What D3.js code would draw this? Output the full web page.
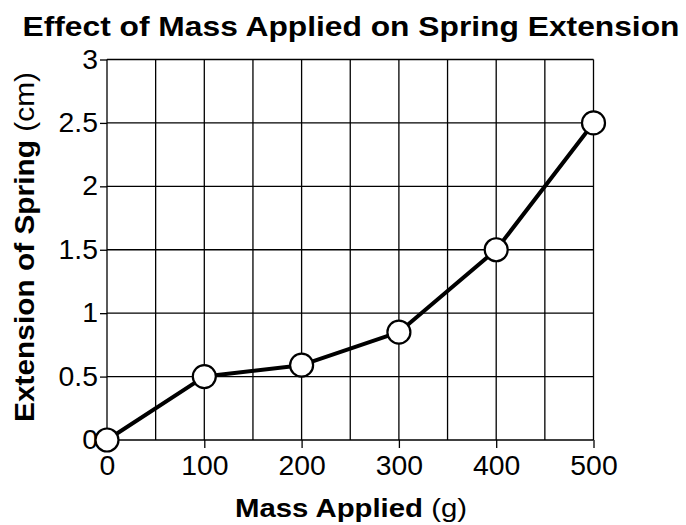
<!DOCTYPE html>
<html>
<head>
<meta charset="utf-8">
<script src="https://cdn.jsdelivr.net/npm/d3@7"></script>
<style>
  body { margin: 0; background: #fff; }
  text { font-family: "Liberation Sans", Arial, sans-serif; fill: #000; }
</style>
</head>
<body>
<script>
const width = 686;
const height = 525;

// data
const massValues = [0, 100, 200, 300, 400, 500];
const extensionValues = [0, 0.5, 0.59, 0.85, 1.5, 2.5];
const xTicks = [0, 100, 200, 300, 400, 500];
const yTicks = [0, 0.5, 1, 1.5, 2, 2.5, 3];
const xGrid = d3.range(0, 501, 50);

const margin = {top: 59.5, right: 92.5, bottom: 85, left: 107};

const svg = d3.select("body").append("svg")
    .attr("width", width)
    .attr("height", height);

const x = d3.scaleLinear().domain([0, 500]).range([margin.left, width - margin.right]);
const y = d3.scaleLinear().domain([0, 3]).range([height - margin.bottom, margin.top]);

// stretch text a bit wider, the reference font runs wide
function widen(sel, k) {
  sel.each(function() {
    const w = this.getComputedTextLength();
    d3.select(this).attr("textLength", w * k).attr("lengthAdjust", "spacingAndGlyphs");
  });
}

// grid
svg.append("g").selectAll("line.v")
    .data(xGrid)
  .enter().append("line")
    .attr("x1", d => x(d)).attr("x2", d => x(d))
    .attr("y1", y(0)).attr("y2", y(3))
    .attr("stroke", "#000").attr("stroke-width", 1.3);

svg.append("g").selectAll("line.h")
    .data(yTicks)
  .enter().append("line")
    .attr("x1", x(0)).attr("x2", x(500))
    .attr("y1", d => y(d)).attr("y2", d => y(d))
    .attr("stroke", "#000").attr("stroke-width", 1.3);

// axes
const xAxis = d3.axisBottom(x).tickValues(xTicks).tickSize(8).tickPadding(8).tickFormat(d3.format("d"));
const yAxis = d3.axisLeft(y).tickValues(yTicks).tickSize(7).tickPadding(2).tickFormat(d => String(d));

const gx = svg.append("g").attr("transform", `translate(0,${y(0)})`).call(xAxis);
const gy = svg.append("g").attr("transform", `translate(${x(0)},0)`).call(yAxis);

[gx, gy].forEach(g => {
  g.attr("font-size", 27).attr("font-family", "Liberation Sans, Arial, sans-serif");
  g.select(".domain").remove();
  g.selectAll(".tick line").attr("stroke", "#000").attr("stroke-width", 1.3);
  g.selectAll(".tick text").attr("fill", "#000");
  widen(g.selectAll(".tick text"), 1.05);
});

// line + markers
const pts = massValues.map((m, i) => [m, extensionValues[i]]);

svg.append("path")
    .datum(pts)
    .attr("fill", "none")
    .attr("stroke", "#000")
    .attr("stroke-width", 4)
    .attr("stroke-linejoin", "round")
    .attr("d", d3.line().x(d => x(d[0])).y(d => y(d[1])));

svg.append("g").selectAll("circle")
    .data(pts)
  .enter().append("circle")
    .attr("cx", d => x(d[0]))
    .attr("cy", d => y(d[1]))
    .attr("r", 11.5)
    .attr("fill", "#fff")
    .attr("stroke", "#000")
    .attr("stroke-width", 2.2);

// title
svg.append("text")
    .attr("x", 351).attr("y", 36)
    .attr("text-anchor", "middle")
    .attr("textLength", 657).attr("lengthAdjust", "spacingAndGlyphs")
    .style("font-size", "28px").style("font-weight", "bold")
    .text("Effect of Mass Applied on Spring Extension");

// x label
const xl = svg.append("text")
    .attr("x", 351).attr("y", 517)
    .attr("text-anchor", "middle")
    .attr("textLength", 232).attr("lengthAdjust", "spacingAndGlyphs")
    .style("font-size", "25px");
xl.append("tspan").style("font-weight", "bold").text("Mass Applied");
xl.append("tspan").text(" (g)");

// y label
const yl = svg.append("text")
    .attr("transform", "translate(34,247) rotate(-90)")
    .attr("text-anchor", "middle")
    .attr("textLength", 350).attr("lengthAdjust", "spacingAndGlyphs")
    .style("font-size", "27px");
yl.append("tspan").style("font-weight", "bold").text("Extension of Spring");
yl.append("tspan").text(" (cm)");
</script>
</body>
</html>
